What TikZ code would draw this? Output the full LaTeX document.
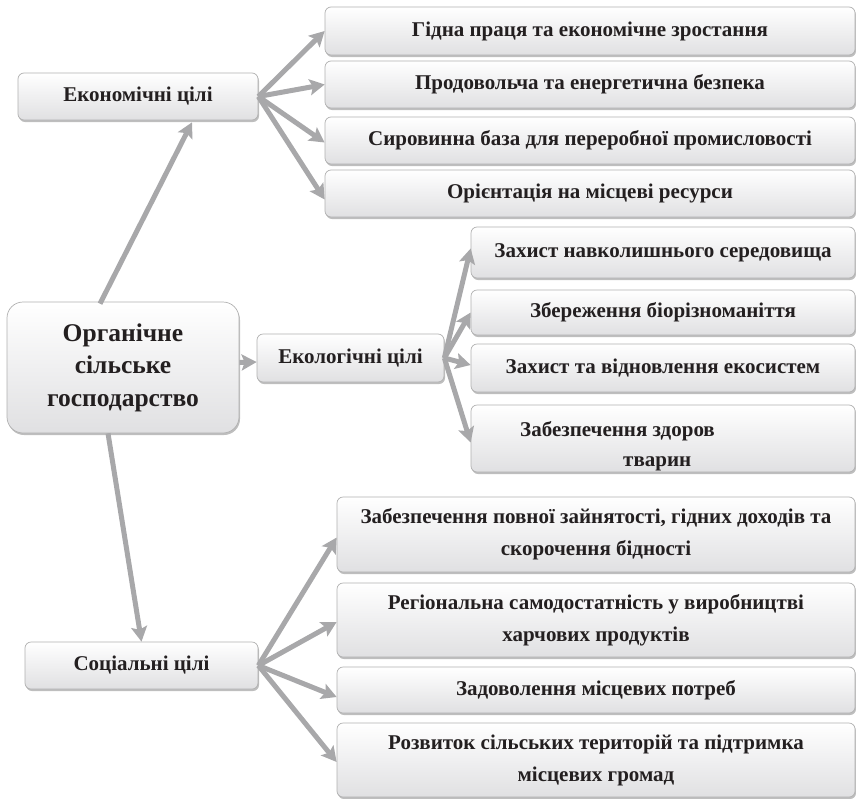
\documentclass[tikz,border=0pt]{standalone}
\usepackage{fontspec}
\setmainfont{Liberation Serif}
\usetikzlibrary{arrows.meta,shadows,calc}

\definecolor{boxline}{RGB}{176,176,176}
\definecolor{boxbottom}{RGB}{224,224,226}
\definecolor{arrowgray}{RGB}{168,168,170}
\definecolor{txt}{RGB}{35,31,32}

\tikzset{
  goal/.style={draw=boxline, line width=0.7pt, rounded corners=6pt,
    top color=white, bottom color=boxbottom,
    drop shadow={shadow xshift=1pt, shadow yshift=-2pt, fill=gray!85, opacity=0.6},
    align=center, inner sep=0pt, text=txt,
    font=\bfseries\fontsize{21}{32}\selectfont},
  rootbox/.style={goal, rounded corners=16pt,
    font=\bfseries\fontsize{25.5}{32.5}\selectfont},
  conn/.style={draw=arrowgray, line width=5pt,
    -{Stealth[length=15pt,width=16pt,inset=3pt]}},
  plain/.style={inner sep=0pt, text=txt, font=\bfseries\fontsize{21}{32}\selectfont}
}

\begin{document}
\begin{tikzpicture}[x=1pt,y=-1pt]
\useasboundingbox (0,0) rectangle (856,798);

% root
\node[rootbox, minimum width=232pt, minimum height=131pt] (org) at (123,367.5)
  {Органічне\\сільське\\господарство};

% economic branch
\node[goal, minimum width=240pt, minimum height=47pt] (econ) at (138,96.5) {Економічні цілі};
\node[goal, minimum width=530pt, minimum height=48pt] (e1) at (590,31) {Гідна праця та економічне зростання};
\node[goal, minimum width=530pt, minimum height=47pt] (e2) at (590,84.5) {Продовольча та енергетична безпека};
\node[goal, minimum width=530pt, minimum height=47pt] (e3) at (590,140.5) {Сировинна база для переробної промисловості};
\node[goal, minimum width=530pt, minimum height=47pt] (e4) at (590,193.5) {Орієнтація на місцеві ресурси};

% ecological branch
\node[goal, minimum width=187pt, minimum height=48pt] (eco) at (350.5,358) {Екологічні цілі};
\node[goal, minimum width=384pt, minimum height=51pt] (eco1) at (663,252.5) {Захист навколишнього середовища};
\node[goal, minimum width=384pt, minimum height=45pt] (eco2) at (663,312.5) {Збереження біорізноманіття};
\node[goal, minimum width=384pt, minimum height=48pt] (eco3) at (663,368) {Захист та відновлення екосистем};
\node[goal, minimum width=384pt, minimum height=67pt] (eco4) at (663,438.5) {};
\node[plain, anchor=base west] (eco4a) at (520,436) {Забезпечення здоров};
\node[plain, anchor=base west] (eco4b) at (623,466) {тварин};

% social branch
\node[goal, minimum width=233pt, minimum height=47pt] (soc) at (141.5,665.5) {Соціальні цілі};
\node[goal, minimum width=518pt, minimum height=75pt] (s1) at (596,534.5)
  {Забезпечення повної зайнятості, гідних доходів та\\скорочення бідності};
\node[goal, minimum width=518pt, minimum height=74pt] (s2) at (596,620)
  {Регіональна самодостатність у виробництві\\харчових продуктів};
\node[goal, minimum width=518pt, minimum height=46pt] (s3) at (596,690) {Задоволення місцевих потреб};
\node[goal, minimum width=518pt, minimum height=74pt] (s4) at (596,760)
  {Розвиток сільських територій та підтримка\\місцевих громад};

% connectors from the root
\draw[conn] ($(org.north)+(-23,2)$) -- ($(econ.south)+(54,2)$);
\draw[conn] ($(org.east)+(0,-5)$) -- ($(eco.west)+(0,4)$);
\draw[conn] ($(org.south)+(-15,0)$) -- (soc.north);

% economic goals
\draw[conn] (econ.east) -- (e1.west);
\draw[conn] (econ.east) -- (e2.west);
\draw[conn] (econ.east) -- ($(e3.west)+(0,2)$);
\draw[conn] (econ.east) -- ($(e4.west)+(0,6)$);

% ecological goals
\draw[conn] (eco.east) -- ($(eco1.west)+(0,-4)$);
\draw[conn] (eco.east) -- (eco2.west);
\draw[conn] (eco.east) -- ($(eco3.west)+(0,-3)$);
\draw[conn] (eco.east) -- ($(eco4.west)+(0,4)$);

% social goals
\draw[conn] (soc.east) -- ($(s1.west)+(0,3)$);
\draw[conn] (soc.east) -- ($(s2.west)+(0,2)$);
\draw[conn] (soc.east) -- ($(s3.west)+(0,7)$);
\draw[conn] (soc.east) -- ($(s4.west)+(0,2)$);
\end{tikzpicture}
\end{document}
